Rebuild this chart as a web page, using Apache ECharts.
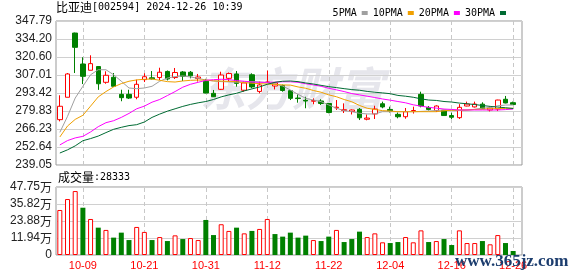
<!DOCTYPE html>
<html><head><meta charset="utf-8">
<script src="https://cdn.jsdelivr.net/npm/echarts@6/dist/echarts.min.js"></script>
<style>html,body{margin:0;padding:0;background:#fff}#c{width:578px;height:276px}</style>
</head><body><div id="c"></div>
<script>
const stockName = '比亚迪';
const stockCode = '002594';
const stamp = '2024-12-26 10:39';
const volLabel = '成交量:28333';
const dates = ['09-27','09-30','10-08','10-09','10-10','10-11','10-14','10-15','10-16','10-17','10-18',
 '10-21','10-22','10-23','10-24','10-25','10-28','10-29','10-30',
 '10-31','11-01','11-04','11-05','11-06','11-07','11-08','11-11',
 '11-12','11-13','11-14','11-15','11-18','11-19','11-20','11-21',
 '11-22','11-25','11-26','11-27','11-28','11-29','12-02','12-03',
 '12-04','12-05','12-06','12-09','12-10','12-11','12-12','12-13',
 '12-16','12-17','12-18','12-19','12-20','12-23','12-24','12-25','12-26'];
const labelDates = ['10-09','10-21','10-31','11-12','11-22','12-04','12-16','12-26'];
const open  = [273.3,290.2,338.7,315.3,310.6,313.4,301.5,305.3,292.4,292.4,290.2,303.5,304.9,305.1,309.7,305.1,309.3,309.1,304.4,302.3,293.2,296.2,304.5,307.8,295.5,307.2,294.6,301.4,298.7,299.1,295.2,289.6,287.9,287.2,287.4,285.5,282.2,280.2,279.5,281.1,273.6,277.6,285.3,281.0,277.3,275.5,279.5,292.4,282.5,280.2,280.4,276.4,274.8,283.6,282.9,285.0,280.6,281.3,288.7,286.1];
const close = [283.4,307.8,327.9,306.0,315.6,300.4,306.8,298.5,289.9,289.6,300.0,305.7,304.1,309.1,304.0,308.9,306.0,306.4,305.5,293.4,290.6,307.0,308.1,300.7,301.0,298.0,299.5,301.7,301.0,295.3,289.4,289.2,287.4,287.7,285.5,278.7,282.7,280.8,280.6,274.7,274.5,281.3,282.9,280.0,275.5,279.3,280.2,283.6,281.0,283.6,276.4,275.1,282.6,285.1,285.1,281.5,282.1,288.1,285.9,284.7];
const low   = [272.0,290.2,308.5,300.2,310.6,295.8,300.4,298.0,287.2,288.9,288.7,301.7,303.6,303.2,302.9,304.0,302.5,304.5,302.1,293.2,290.4,295.7,302.1,298.2,294.4,297.0,293.2,301.0,296.1,294.4,288.1,286.1,281.9,284.9,284.4,278.1,280.6,278.3,277.2,273.0,272.8,273.8,281.9,278.7,274.3,274.0,277.9,282.6,280.2,279.1,276.3,273.8,273.8,283.4,282.5,281.3,279.5,279.8,285.6,284.4];
const high  = [291.7,308.5,339.0,320.4,321.9,313.8,309.8,308.5,295.9,295.9,303.5,308.3,310.0,312.5,310.4,312.3,310.0,310.0,307.8,304.1,295.7,309.5,308.9,310.0,302.1,308.3,302.1,310.3,301.4,299.8,295.7,292.4,290.6,289.4,288.7,285.9,288.1,285.6,281.0,282.1,277.2,283.8,286.9,283.1,278.7,282.1,283.1,294.4,283.6,284.1,280.6,278.5,285.0,286.9,286.9,286.4,283.1,288.3,291.2,286.9];
const ma5  = [263.7,275.8,289.6,298.5,307.2,311.0,311.0,307.2,302.3,297.2,296.7,297.2,298.5,302.3,304.7,305.8,306.3,305.5,304.5,303.2,302.5,302.0,301.8,301.5,301.7,302.0,301.8,301.2,300.2,298.7,295.7,292.4,289.4,288.1,286.9,284.4,281.9,280.1,279.3,278.1,277.6,277.6,279.3,279.3,279.3,279.3,279.3,279.5,279.8,280.2,280.6,280.4,280.1,280.5,281.1,282.0,282.4,283.8,284.3,284.4];
const ma10 = [260.2,268.5,273.5,276.6,283.5,290.5,294.5,298.0,300.5,302.3,303.3,303.8,304.0,303.0,302.0,301.7,302.5,303.0,303.2,303.2,302.6,302.4,302.2,302.0,301.3,300.8,300.5,300.2,299.9,299.5,299.4,298.0,297.0,295.3,294.0,292.0,290.6,288.5,286.8,284.0,281.9,281.0,280.1,279.8,279.3,279.3,279.3,279.3,279.3,279.3,280.0,280.4,280.6,280.6,281.0,281.2,281.5,281.6,281.8,281.9];
const ma20 = [254.2,257.5,259.5,260.7,264.0,268.0,271.0,272.5,275.0,278.0,281.5,283.5,286.5,288.5,291.5,294.5,297.8,300.0,301.5,303.0,303.5,303.8,303.5,302.8,302.3,301.7,301.5,301.5,301.6,301.9,301.9,301.5,300.4,299.5,298.5,297.0,295.8,294.5,293.0,292.0,291.0,290.0,288.9,288.0,287.0,286.0,284.5,283.5,282.6,282.0,281.3,281.0,280.6,280.6,280.6,280.6,280.6,280.6,280.9,281.3];
const ma30 = [248.1,250.5,253.5,257.4,259.0,260.9,263.5,266.0,267.5,268.8,269.5,271.5,275.0,277.5,279.7,281.5,283.3,284.8,286.0,287.0,288.5,290.5,292.0,293.2,295.0,296.5,298.0,300.0,301.5,302.3,302.5,302.0,301.0,300.2,299.2,298.2,297.5,296.7,296.0,295.5,294.6,294.0,293.5,292.9,291.6,291.0,290.2,289.0,288.1,287.8,287.0,286.6,285.8,285.3,284.7,284.0,283.3,282.8,282.3,281.7];
const volume = [31.6,39.3,44.9,33.2,25.3,19.2,17.6,12.2,15.7,10.5,19.7,16.2,10.5,12.6,9.8,13.8,11.2,11.9,10.5,24.6,14.0,21.6,16.9,19.2,15.2,16.9,18.3,25.3,14.7,12.9,15.7,12.2,13.6,10.5,9.8,12.9,17.6,9.1,11.2,16.4,12.6,15.2,8.9,8.4,9.1,12.6,8.9,17.3,9.1,9.8,11.2,7.0,17.3,8.4,8.4,9.8,7.5,14.0,8.4,2.8];
const volUp = [1,1,1,0,1,0,1,0,0,0,1,1,0,1,0,1,0,1,1,0,0,1,1,0,1,0,1,1,0,0,0,0,0,1,0,0,1,0,0,0,1,1,1,0,0,1,1,1,0,1,0,0,1,1,1,0,1,1,0,0];
const priceTicks = ['239.05','252.64','266.23','279.83','293.42','307.01','320.60','334.20','347.79'];
const volTicks = ['0','11.94万','23.88万','35.82万','47.75万'];

const RED = '#ff0000', GREEN = '#008000';
const isLabel = (i) => labelDates.indexOf(dates[i]) >= 0;
const vLineSeries = (xi, yi) => ({
  type: 'line', name: 'grid-v-' + xi, xAxisIndex: xi, yAxisIndex: yi, data: [], z: 1, silent: true,
  markLine: {
    z: 1, silent: true, symbol: ['none', 'none'], label: {show: false}, animation: false,
    lineStyle: {color: '#c8c8c8', type: [4, 3], width: 1},
    emphasis: {disabled: true},
    data: labelDates.map((d) => ({xAxis: d}))
  }
});

const chart = echarts.init(document.getElementById('c'), null, {renderer: 'canvas'});
chart.setOption({
  animation: false,
  backgroundColor: '#fff',
  legend: {
    data: ['5PMA', '10PMA', '20PMA', '30PMA'],
    top: 3, right: 67, icon: 'rect', itemWidth: 6, itemHeight: 4, itemGap: 5, align: 'right',
    selectedMode: false,
    textStyle: {fontFamily: 'DejaVu Sans Mono', fontSize: 10, color: '#000'}
  },
  graphic: [
    {type: 'text', left: 200, top: 66, z: 0, silent: true,
     style: {text: '东方财富', fontFamily: 'Noto Sans CJK SC', fontWeight: 'bold', fontStyle: 'italic', fontSize: 46, fill: '#e6e6ec'}},
    {type: 'text', left: 56, top: 1,
     style: {text: '{a|' + stockName + '}{b|[' + stockCode + '] ' + stamp + '}',
       rich: {a: {fontFamily: 'Noto Sans CJK SC', fontSize: 12, fill: '#000'}, b: {fontFamily: 'DejaVu Sans Mono', fontSize: 10, fill: '#000'}}}},
    {type: 'text', left: 58, top: 171,
     style: {text: '{a|' + volLabel.split(':')[0] + '}{b|:' + volLabel.split(':')[1] + '}',
       rich: {a: {fontFamily: 'Noto Sans CJK SC', fontSize: 12, fill: '#000'}, b: {fontFamily: 'DejaVu Sans Mono', fontSize: 10, fill: '#000'}}}},
    {type: 'text', left: 455, top: 253, z: 100,
     style: {text: 'www.365jz.com', fontFamily: 'Liberation Serif', fontWeight: 'bold', fontSize: 17, fill: '#1c3d6e'}}
  ],
  grid: [
    {left: 56, top: 21, width: 466, height: 144, show: true, borderColor: '#999', borderWidth: 1, backgroundColor: 'transparent'},
    {left: 56, top: 21, width: 461, height: 144},
    {left: 56, top: 187, width: 466, height: 68, show: true, borderColor: '#999', borderWidth: 1, backgroundColor: 'transparent'},
    {left: 56, top: 187, width: 461, height: 68}
  ],
  xAxis: [
    {gridIndex: 0, type: 'value', min: 0, max: 1, show: false},
    {gridIndex: 1, type: 'category', data: dates, boundaryGap: true, axisLine: {show: false}, axisTick: {show: false}, axisLabel: {show: false}, splitLine: {show: false}},
    {gridIndex: 2, type: 'value', min: 0, max: 1, show: false},
    {gridIndex: 3, type: 'category', data: dates, boundaryGap: true, axisLine: {show: false}, axisTick: {show: false}, splitLine: {show: false},
     axisLabel: {show: true, interval: (i) => isLabel(i), color: RED, fontFamily: 'Liberation Sans', fontSize: 11, margin: 5}}
  ],
  yAxis: [
    {gridIndex: 0, type: 'value', min: 0, max: 8, interval: 1, axisLine: {show: false}, axisTick: {show: false},
     axisLabel: {formatter: (v) => priceTicks[v], color: '#222', fontFamily: 'Liberation Sans', fontSize: 12, margin: 4},
     splitLine: {lineStyle: {color: '#d0d0d0', width: 1}}},
    {gridIndex: 1, type: 'value', min: 239.05, max: 347.79, show: false},
    {gridIndex: 2, type: 'value', min: 0, max: 4, interval: 1, axisLine: {show: false}, axisTick: {show: false},
     axisLabel: {formatter: (v) => { const s = volTicks[v]; return s.endsWith('万') ? '{n|' + s.slice(0, -1) + '}{w|万}' : '{n|' + s + '}'; },
       margin: 4, rich: {n: {color: '#222', fontFamily: 'Liberation Sans', fontSize: 12}, w: {color: '#222', fontFamily: 'Noto Sans CJK SC', fontSize: 12}}},
     splitLine: {lineStyle: {color: '#d0d0d0', width: 1}}},
    {gridIndex: 3, type: 'value', min: 0, max: 47.75, show: false}
  ],
  series: [
    vLineSeries(1, 1),
    vLineSeries(3, 3),
    {type: 'candlestick', name: 'K', xAxisIndex: 1, yAxisIndex: 1, barWidth: 5, z: 3,
     data: dates.map((d, i) => [open[i], close[i], low[i], high[i]]),
     itemStyle: {color: '#ffffff', color0: GREEN, borderColor: RED, borderColor0: GREEN, borderWidth: 1}},
    {type: 'line', name: '5PMA', xAxisIndex: 1, yAxisIndex: 1, z: 4, data: ma5, showSymbol: false, color: '#a0a0a0', lineStyle: {width: 1, color: '#a0a0a0'}},
    {type: 'line', name: '10PMA', xAxisIndex: 1, yAxisIndex: 1, z: 4, data: ma10, showSymbol: false, color: '#f0a000', lineStyle: {width: 1, color: '#f0a000'}},
    {type: 'line', name: '20PMA', xAxisIndex: 1, yAxisIndex: 1, z: 4, data: ma20, showSymbol: false, color: '#ff00ff', lineStyle: {width: 1, color: '#ff00ff'}},
    {type: 'line', name: '30PMA', xAxisIndex: 1, yAxisIndex: 1, z: 4, data: ma30, showSymbol: false, color: '#006b33', lineStyle: {width: 1, color: '#006b33'}},
    {type: 'bar', name: 'VOL', xAxisIndex: 3, yAxisIndex: 3, barWidth: 5, z: 3,
     data: volume.map((v, i) => ({value: v, itemStyle: volUp[i] ? {color: '#ffffff', borderColor: RED, borderWidth: 1} : {color: GREEN}}))}
  ]
});
</script></body></html>
